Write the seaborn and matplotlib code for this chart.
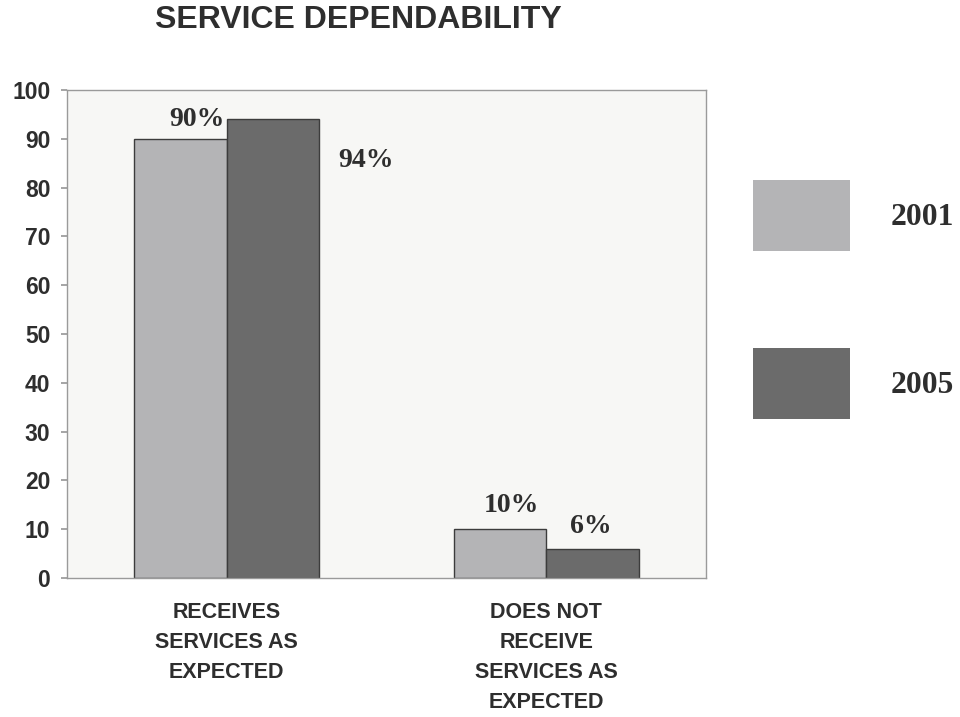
import matplotlib
matplotlib.use("Agg")
import matplotlib.pyplot as plt
import seaborn as sns
import pandas as pd

categories = ["RECEIVES\nSERVICES AS\nEXPECTED", "DOES NOT\nRECEIVE\nSERVICES AS\nEXPECTED"]
years = ["2001", "2005"]
values_2001 = [90, 10]
values_2005 = [94, 6]
yticks = [0, 10, 20, 30, 40, 50, 60, 70, 80, 90, 100]

df = pd.DataFrame({
    "category": categories * 2,
    "year": [years[0]] * 2 + [years[1]] * 2,
    "value": values_2001 + values_2005,
})

sns.set_theme(style="white")
plt.rcParams["font.family"] = ["Liberation Sans", "DejaVu Sans"]

fig = plt.figure(figsize=(9.6, 7.17), dpi=100)
fig.patch.set_facecolor("white")
ax = fig.add_axes([67 / 960, 1 - 578 / 717, 639 / 960, 488 / 717])
ax.set_facecolor("#f7f7f5")

palette = {"2001": "#b4b4b6", "2005": "#6b6b6b"}
sns.barplot(data=df, x="category", y="value", hue="year", hue_order=years,
            palette=palette, width=0.58, edgecolor="#3c3c3c", linewidth=1.0,
            saturation=1, ax=ax, legend=True)

ax.set_xlim(-0.5, 1.5)
ax.set_ylim(0, 100)
ax.set_yticks(yticks)
ax.set_xlabel("")
ax.set_ylabel("")
for s in ax.spines.values():
    s.set_color("#9a9a9a")
    s.set_linewidth(1.0)
ax.tick_params(axis="y", left=True, length=4, color="#9a9a9a", pad=8,
               labelsize=16.5, labelcolor="#2e2e2e")
ax.tick_params(axis="x", bottom=False, pad=11, labelcolor="#2e2e2e")
for t in ax.get_yticklabels():
    t.set_fontweight("bold")
for t in ax.get_xticklabels():
    t.set_fontweight("bold")
    t.set_fontsize(15.5)
    t.set_linespacing(1.57)

# value labels, placed next to each bar
offsets = {("2001", 0): (12, 14), ("2005", 0): (67, -30),
           ("2001", 1): (8, 17), ("2005", 1): (-1, 16)}
bar_w = 0.29
for yi, (yr, vals) in enumerate(zip(years, [values_2001, values_2005])):
    for ci, v in enumerate(vals):
        x = ci - bar_w / 2 + yi * bar_w
        dx, dy = offsets[(yr, ci)]
        ax.annotate(f"{v}%", (x, v), xytext=(dx, dy), textcoords="offset points",
                    ha="center", va="center", fontsize=20, fontweight="bold",
                    family="Liberation Serif", color="#2e2e2e")

handles, labels = ax.get_legend_handles_labels()
for h in handles:
    h.set_edgecolor("none")
leg = ax.legend(handles, labels, loc="upper left", bbox_to_anchor=(753 / 960, 1 - 180 / 717),
                bbox_transform=fig.transFigure, frameon=False, borderpad=0, borderaxespad=0,
                prop={"family": "Liberation Serif", "weight": "bold", "size": 22.7},
                handlelength=3.08, handleheight=3.09, labelspacing=3.08,
                handletextpad=1.27)
for t in leg.get_texts():
    t.set_color("#2e2e2e")

fig.text(358 / 960, 1 - 20 / 717, "SERVICE DEPENDABILITY", ha="center", va="center",
         fontsize=23, fontweight="bold", color="#2e2e2e")

fig.savefig("out.png", dpi=100)
